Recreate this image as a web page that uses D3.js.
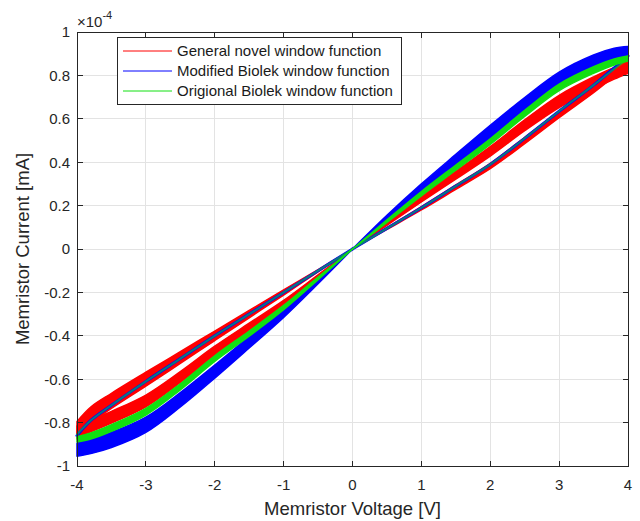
<!DOCTYPE html>
<html><head><meta charset="utf-8">
<script src="https://cdn.jsdelivr.net/npm/d3@7"></script>
<style>body{margin:0;background:#fff}svg{display:block}text{font-family:"Liberation Sans",Arial,sans-serif}</style>
</head><body><svg id="c" width="640" height="521"></svg>
<script>
// ---- data (current in units of 1e-4 mA) ----
const seriesNames = ["General novel window function","Modified Biolek window function","Origional Biolek window function"];
const seriesColors = ["#ff0000","#0000ff","#11e011"];
const xTicks = [-4,-3,-2,-1,0,1,2,3,4];
const yTicks = [-1,-0.8,-0.6,-0.4,-0.2,0,0.2,0.4,0.6,0.8,1];
const yTickLabels = ["-1","-0.8","-0.6","-0.4","-0.2","0","0.2","0.4","0.6","0.8","1"];

const vPos = [0,0.5,1,1.5,2,2.5,3,3.5,3.8,4];
const vNeg = [0,-0.5,-1,-1.5,-2,-2.5,-3,-3.5,-3.8,-4];

// red: general novel window (band edges of repeated cycles)
const redOuterHiPos = [0,0.121,0.243,0.358,0.472,0.595,0.708,0.793,0.837,0.86];
const redOuterLoPos = [0,0.109,0.217,0.322,0.428,0.545,0.652,0.737,0.783,0.81];
const redInnerHiPos = [0,0.098,0.195,0.295,0.395,0.515,0.635,0.755,0.83,0.87];
const redInnerLoPos = [0,0.09,0.18,0.275,0.37,0.485,0.605,0.72,0.795,0.84];
const redOuterHiNeg = [0,-0.119,-0.237,-0.342,-0.448,-0.565,-0.673,-0.748,-0.788,-0.815];
const redOuterLoNeg = [0,-0.131,-0.263,-0.378,-0.492,-0.615,-0.727,-0.802,-0.842,-0.865];
const redInnerHiNeg = [0,-0.095,-0.188,-0.283,-0.378,-0.473,-0.568,-0.665,-0.728,-0.795];
const redInnerLoNeg = [0,-0.105,-0.212,-0.317,-0.422,-0.527,-0.632,-0.735,-0.802,-0.875];

// blue: modified Biolek window
const blueOuterHiPos = [0,0.155,0.30,0.436,0.57,0.698,0.815,0.894,0.925,0.933];
const blueOuterLoPos = [0,0.135,0.26,0.384,0.51,0.632,0.745,0.826,0.861,0.877];
const blueInnerPos   = [0,0.095,0.19,0.29,0.39,0.51,0.635,0.755,0.835,0.89];
const blueOuterHiNeg = [0,-0.14,-0.275,-0.404,-0.535,-0.662,-0.775,-0.845,-0.877,-0.895];
const blueOuterLoNeg = [0,-0.16,-0.315,-0.456,-0.595,-0.728,-0.845,-0.915,-0.943,-0.955];
const blueInnerNeg   = [0,-0.1,-0.2,-0.30,-0.40,-0.505,-0.61,-0.72,-0.79,-0.86];

// green: original Biolek window
const greenOuterHiPos = [0,0.134,0.265,0.387,0.508,0.639,0.76,0.84,0.876,0.89];
const greenOuterLoPos = [0,0.122,0.245,0.363,0.482,0.611,0.73,0.81,0.848,0.866];
const greenInnerPos   = [0,0.095,0.19,0.29,0.39,0.51,0.635,0.755,0.83,0.875];
const greenOuterHiNeg = [0,-0.129,-0.26,-0.378,-0.492,-0.621,-0.735,-0.81,-0.848,-0.865];
const greenOuterLoNeg = [0,-0.141,-0.28,-0.402,-0.518,-0.649,-0.765,-0.84,-0.876,-0.889];
const greenInnerNeg   = [0,-0.1,-0.2,-0.30,-0.40,-0.505,-0.61,-0.72,-0.79,-0.855];

// ---- layout ----
const L=77,T=32,R=628,B=466;
const svg=d3.select("#c");
const x=d3.scaleLinear().domain([-4,4]).range([L,R]);
const y=d3.scaleLinear().domain([-1,1]).range([B,T]);
const axisCol="#262626";

// grid
const g=svg.append("g");
g.selectAll(".gx").data(xTicks).enter().append("line").attr("x1",d=>x(d)).attr("x2",d=>x(d)).attr("y1",T).attr("y2",B).attr("stroke","#e3e3e3").attr("stroke-width",1).attr("shape-rendering","crispEdges");
g.selectAll(".gy").data(yTicks).enter().append("line").attr("y1",d=>y(d)).attr("y2",d=>y(d)).attr("x1",L).attr("x2",R).attr("stroke","#e3e3e3").attr("stroke-width",1).attr("shape-rendering","crispEdges");

const plot=svg.append("g");
const curve=d3.curveCatmullRom.alpha(0.5);
const band=(vs,hi,lo,col,sw)=>{
  const d=vs.map((v,i)=>({v,hi:hi[i],lo:lo[i]}));
  const a=d3.area().x(p=>x(p.v)).y0(p=>y(p.lo)).y1(p=>y(p.hi)).curve(curve);
  plot.append("path").attr("d",a(d)).attr("fill",col).attr("stroke",col).attr("stroke-width",sw).attr("stroke-linejoin","round");
};
const thin=(vs,vals,col,sw,op)=>{
  const d=vs.map((v,i)=>[v,vals[i]]);
  const ln=d3.line().x(p=>x(p[0])).y(p=>y(p[1])).curve(curve);
  plot.append("path").attr("d",ln(d)).attr("fill","none").attr("stroke",col).attr("stroke-width",sw).attr("stroke-opacity",op||1).attr("stroke-linecap","round");
};
// red
band(vPos,redOuterHiPos,redOuterLoPos,seriesColors[0],1.5);
band(vPos,redInnerHiPos,redInnerLoPos,seriesColors[0],1.5);
band(vNeg,redOuterHiNeg,redOuterLoNeg,seriesColors[0],1.5);
band(vNeg,redInnerHiNeg,redInnerLoNeg,seriesColors[0],1.5);
// blue
band(vPos,blueOuterHiPos,blueOuterLoPos,seriesColors[1],1.5);
band(vNeg,blueOuterHiNeg,blueOuterLoNeg,seriesColors[1],1.5);
thin(vPos,blueInnerPos,seriesColors[1],3);
thin(vNeg,blueInnerNeg,seriesColors[1],3);
// green
band(vPos,greenOuterHiPos,greenOuterLoPos,seriesColors[2],1.5);
band(vNeg,greenOuterHiNeg,greenOuterLoNeg,seriesColors[2],1.5);
thin(vPos,greenInnerPos,seriesColors[2],2,0.55);
thin(vNeg,greenInnerNeg,seriesColors[2],2,0.55);

// box & ticks
const tl=5.5;
const ax=svg.append("g").attr("stroke",axisCol).attr("stroke-width",1).attr("shape-rendering","crispEdges");
ax.append("rect").attr("x",L).attr("y",T).attr("width",R-L).attr("height",B-T).attr("fill","none");
xTicks.forEach(t=>{
  ax.append("line").attr("x1",x(t)).attr("x2",x(t)).attr("y1",B).attr("y2",B-tl);
  ax.append("line").attr("x1",x(t)).attr("x2",x(t)).attr("y1",T).attr("y2",T+tl);
});
yTicks.forEach(t=>{
  ax.append("line").attr("y1",y(t)).attr("y2",y(t)).attr("x1",L).attr("x2",L+tl);
  ax.append("line").attr("y1",y(t)).attr("y2",y(t)).attr("x1",R).attr("x2",R-tl);
});
// tick labels
svg.selectAll(".xt").data(xTicks).enter().append("text").attr("x",d=>x(d)).attr("y",B+24).attr("text-anchor","middle").attr("font-size",15).attr("fill",axisCol).text(d=>d);
svg.selectAll(".yt").data(yTicks).enter().append("text").attr("x",L-7).attr("y",d=>y(d)+5.3).attr("text-anchor","end").attr("font-size",15).attr("fill",axisCol).text((d,i)=>yTickLabels[i]);
// exponent
const ex=svg.append("text").attr("x",L).attr("y",27).attr("font-size",15).attr("fill",axisCol);
ex.append("tspan").text("\u00d710");
ex.append("tspan").attr("dy",-8).attr("font-size",11).text("-4");
// axis labels
svg.append("text").attr("x",x(0)).attr("y",515).attr("text-anchor","middle").attr("font-size",18.5).attr("fill",axisCol).text("Memristor Voltage [V]");
svg.append("text").attr("transform","translate(29,249) rotate(-90)").attr("text-anchor","middle").attr("font-size",18.5).attr("fill",axisCol).text("Memristor Current [mA]");

// legend
const lg=svg.append("g");
lg.append("rect").attr("x",117.5).attr("y",37.5).attr("width",284).attr("height",67).attr("fill","#fff").attr("stroke",axisCol).attr("stroke-width",1);
seriesNames.forEach((n,i)=>{
  const yy=51+i*20;
  lg.append("line").attr("x1",123).attr("x2",172).attr("y1",yy).attr("y2",yy).attr("stroke",seriesColors[i]).attr("stroke-width",1);
  lg.append("text").attr("x",177).attr("y",yy+5.3).attr("font-size",15).attr("fill","#1a1a1a").text(n);
});
</script></body></html>
